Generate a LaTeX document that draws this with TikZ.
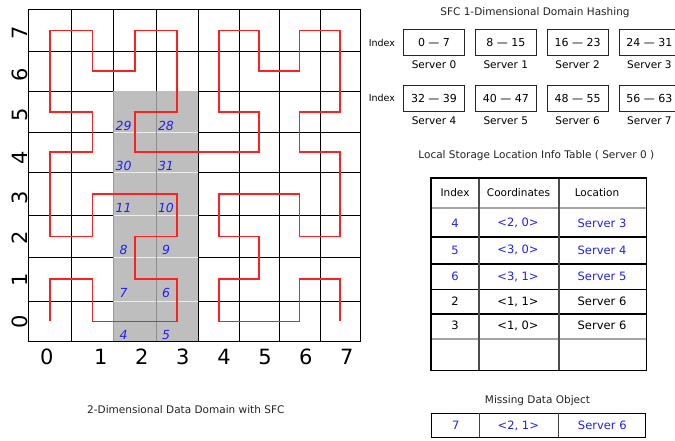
\documentclass[tikz,border=0pt]{standalone}
\usepackage{fontspec}
\setmainfont{DejaVu Sans}
\usepackage{xcolor}
\usetikzlibrary{positioning}
\definecolor{sfcred}{HTML}{FF1F1F}
\definecolor{idxblue}{HTML}{1F1FFF}
\definecolor{cellshade}{HTML}{BEBEBE}
\definecolor{rulegray}{HTML}{A3A3A3}
\definecolor{darktext}{HTML}{222222}
\newcommand{\sfclbl}{\fontsize{10.5}{12}\selectfont}
\newcommand{\sfccell}{\fontsize{11.5}{13}\selectfont}
\newcommand{\sfctick}{\fontsize{21}{24}\selectfont}

\begin{document}
\begin{tikzpicture}[x=1pt,y=-1pt,
  gridline/.style={line width=0.9pt,black},
  sfc/.style={line width=1.8pt,sfcred},
  idx/.style={inner sep=0pt,text=idxblue,font=\fontsize{12.5}{14}\selectfont\itshape},
  tickl/.style={inner sep=0pt,font=\sfctick},
  hashbox/.style={draw=black!85,line width=0.8pt,minimum width=61pt,minimum height=26pt,inner sep=0pt,font=\fontsize{11}{13}\selectfont},
  srvlbl/.style={inner sep=0pt,font=\sfclbl},
  title/.style={inner sep=0pt,font=\sfclbl,text=darktext},
  cellt/.style={inner sep=0pt,font=\sfccell}]
  \useasboundingbox (0,0) rectangle (675,441);

  % 2-D domain grid
  \foreach \gx in {28.3,71.7,113.3,156,198,239.3,279,320,360}
    \draw[gridline] (\gx,9.3) -- (\gx,341.7);
  \foreach \gy in {9.3,51.7,91,132.3,172.3,215.5,257.3,301,341.7}
    \draw[gridline] (28.3,\gy) -- (360,\gy);
  \fill[cellshade] (113.3,91) rectangle (198,341.7);
  \foreach \gy in {132.3,172.3,215.5,257.3,301}
    \draw[white!70!cellshade,line width=0.9pt] (113.3,\gy) -- (198,\gy);
  \draw[black!45,line width=0.9pt] (156,91) -- (156,341.7);
  \draw[black!40,line width=0.9pt] (113.3,91) -- (113.3,341.7);
  \draw[gridline] (28.3,341.7) -- (360,341.7);

  % cell centres
  \foreach \cx [count=\i from 0] in {50,92.5,134.7,177,218.7,259.2,299.5,340}
    \foreach \cy [count=\j from 0] in {321.4,279.2,236.4,193.9,152.3,111.7,71.4,30.5}
      \coordinate (c\i\j) at (\cx,\cy);

  % space filling curve
  \draw[sfc] (c00) -- (c01) -- (c11) -- (c10) -- (c30) -- (c31) -- (c21) -- (c22)
    -- (c32) -- (c33) -- (c13) -- (c12) -- (c02) -- (c04) -- (c14) -- (c15)
    -- (c05) -- (c07) -- (c17) -- (c16) -- (c26) -- (c27) -- (c37) -- (c35)
    -- (c25) -- (c24) -- (c54) -- (c55) -- (c45) -- (c47) -- (c57) -- (c56)
    -- (c66) -- (c67) -- (c77) -- (c75) -- (c65) -- (c64) -- (c74) -- (c72)
    -- (c62) -- (c63) -- (c43) -- (c42) -- (c52) -- (c51) -- (c41) -- (c40)
    -- (c60) -- (c61) -- (c71) -- (c70);

  \foreach \cl/\num in {c20/4,c30/5,c31/6,c21/7,c22/8,c32/9,c33/10,c23/11,c35/28,c25/29,c24/30,c34/31}
    \node[idx] (n\num) at ([shift={(-11,14)}]\cl) {\num};

  \foreach \tx [count=\tk from 0] in {46.7,100.7,141.7,182.7,224,265,305.7,346.7}
    \node[tickl] (tx\tk) at (\tx,356.7) {\tk};
  \foreach \ty [count=\tk from 0] in {322,280,238,198,158,115,75,33}
    \node[tickl,rotate=90] (ty\tk) at (20,\ty) {\tk};

  \node[title] (domain) at (185.8,409.3) {2-Dimensional Data Domain with SFC};

  % 1-D hashing
  \node[title] (hashing) at (535,12.7) {SFC 1-Dimensional Domain Hashing};
  \node[hashbox] (b0) at (434,42.5) {0 — 7};
  \node[hashbox,right=10pt of b0] (b1) {8 — 15};
  \node[hashbox,right=10pt of b1] (b2) {16 — 23};
  \node[hashbox,right=10pt of b2] (b3) {24 — 31};
  \node[hashbox,below=29pt of b0] (b4) {32 — 39};
  \node[hashbox,right=10pt of b4] (b5) {40 — 47};
  \node[hashbox,right=10pt of b5] (b6) {48 — 55};
  \node[hashbox,right=10pt of b6] (b7) {56 — 63};
  \foreach \k in {0,...,7}
    \node[srvlbl,below=4.5pt of b\k] (s\k) {Server \k};
  \node[srvlbl,left=8pt of b0,font=\fontsize{9.5}{11}\selectfont] (ix0) {Index};
  \node[srvlbl,left=8pt of b4,font=\fontsize{9.5}{11}\selectfont] (ix1) {Index};

  % location info table
  \node[title] (ltitle) at (536.3,156) {Local Storage Location Info Table ( Server 0 )};
  \foreach \hy/\hc/\hw in {207.8/rulegray/1.6,236.7/black/1.7,264.2/black/1.7,289.2/black/1.1,314/black/1.1,339/rulegray/1.6}
    \draw[\hc,line width=\hw pt] (431,\hy) -- (646.5,\hy);
  \foreach \vx in {479,559}
    \draw[black!70,line width=1.1pt] (\vx,178.3) -- (\vx,370.5);
  \draw[black,line width=1.8pt] (431,178.3) rectangle (646.5,370.5);
  \node[title,text=black] (hidx) at (455,192.3) {Index};
  \node[title,text=black] (hcrd) at (518.5,192.3) {Coordinates};
  \node[title,text=black] (hloc) at (597,192.3) {Location};
  \foreach \ry/\ri/\rcd/\rlc/\ink [count=\rw] in {223/4/{<2, 0>}/Server 3/idxblue,250/5/{<3, 0>}/Server 4/idxblue,276.7/6/{<3, 1>}/Server 5/idxblue,301.7/2/{<1, 1>}/Server 6/black,325.5/3/{<1, 0>}/Server 6/black}
  {
    \node[cellt,text=\ink] (ri\rw) at (455,\ry) {\ri};
    \node[cellt,text=\ink] (rc\rw) at (518,\ry) {\rcd};
    \node[cellt,text=\ink] (rl\rw) at (602,\ry) {\rlc};
  }

  % missing object
  \node[title] (mtitle) at (537.5,400.7) {Missing Data Object};
  \draw[black,line width=1.2pt] (431.7,413.3) rectangle (645.7,437.3);
  \foreach \vx in {479.3,558.3}
    \draw[black!75,line width=1pt] (\vx,413.3) -- (\vx,437.3);
  \node[cellt,text=idxblue] (mi) at (455.7,425.7) {7};
  \node[cellt,text=idxblue] (mc) at (518.3,425.7) {<2, 1>};
  \node[cellt,text=idxblue] (ml) at (602.3,425.7) {Server 6};
\end{tikzpicture}
\end{document}
